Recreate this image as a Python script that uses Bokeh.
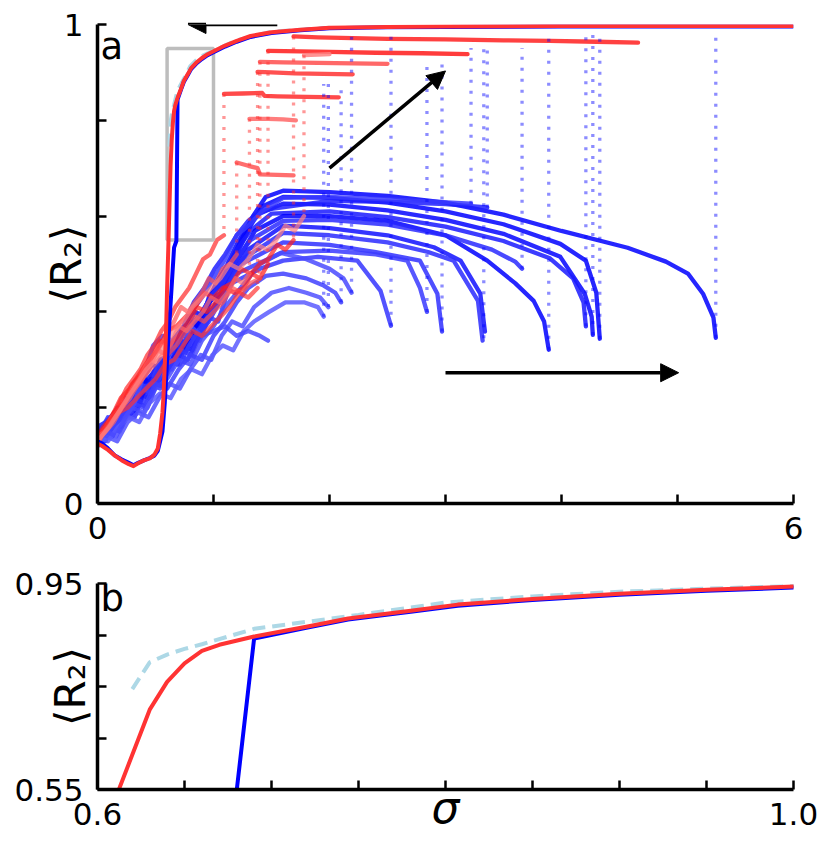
from bokeh.plotting import figure
from bokeh.layouts import column
from bokeh.models import Range1d, FixedTicker, Label, Arrow, NormalHead
from bokeh.embed import file_html
from bokeh.resources import INLINE

FONT = "DejaVu Sans"

# ---------------- main hysteresis curves (shared by both panels) ----------------
main_red_x = [0.00, 0.04, 0.09, 0.15, 0.21, 0.27, 0.31, 0.35, 0.40, 0.45, 0.49, 0.52, 0.54, 0.56,
              0.57, 0.58, 0.59, 0.60, 0.61, 0.63, 0.64, 0.65, 0.66, 0.67, 0.69, 0.72, 0.744, 0.78,
              0.807, 0.85, 0.90, 0.95, 1.00, 1.10, 1.20, 1.32, 1.50, 1.75, 2.00, 2.50, 3.00, 4.00,
              5.00, 6.00]
main_red_y = [0.125, 0.12, 0.112, 0.10, 0.09, 0.082, 0.078, 0.084, 0.09, 0.094, 0.102, 0.115, 0.146,
              0.19, 0.23, 0.29, 0.35, 0.45, 0.53, 0.705, 0.759, 0.795, 0.819, 0.831, 0.847, 0.866,
              0.882, 0.897, 0.909, 0.920, 0.930, 0.938, 0.944, 0.956, 0.966, 0.976, 0.984, 0.989,
              0.993, 0.995, 0.996, 0.997, 0.997, 0.997]

main_blue_x = [0.00, 0.04, 0.09, 0.15, 0.21, 0.27, 0.31, 0.35, 0.40, 0.45, 0.49, 0.52, 0.54, 0.56,
               0.58, 0.60, 0.66, 0.68, 0.69, 0.72, 0.744, 0.78, 0.807, 0.85, 0.90, 0.95, 1.00,
               1.10, 1.20, 1.32, 1.50, 1.75, 2.00, 2.50, 3.00, 4.00, 5.00, 6.00]
main_blue_y = [0.13, 0.125, 0.115, 0.10, 0.092, 0.085, 0.08, 0.085, 0.09, 0.095, 0.10, 0.11, 0.13,
               0.15, 0.21, 0.30, 0.534, 0.548, 0.843, 0.864, 0.880, 0.895, 0.907, 0.918, 0.928,
               0.936, 0.942, 0.954, 0.964, 0.974, 0.982, 0.988, 0.992, 0.994, 0.995, 0.996, 0.996,
               0.996]

dash_x = [0.62, 0.63, 0.64, 0.65, 0.66, 0.69, 0.75, 0.80, 0.85, 0.90, 0.95, 1.00, 1.20, 1.50, 2.00]
dash_y = [0.745, 0.797, 0.812, 0.823, 0.832, 0.862, 0.889, 0.913, 0.925, 0.934, 0.940, 0.945,
          0.967, 0.985, 0.993]

# ---------------- forward (blue) runs ----------------
b1_x = [0.00, 0.06, 0.12, 0.19, 0.26, 0.33, 0.40, 0.47, 0.55, 0.63, 0.71, 0.80, 0.88, 0.96, 1.05,
        1.14, 1.24, 1.34, 1.45, 1.60, 2.00, 2.50, 3.00, 3.50, 4.00, 4.57, 4.90, 5.09, 5.22, 5.31, 5.33]
b1_y = [0.14, 0.16, 0.15, 0.19, 0.21, 0.20, 0.25, 0.27, 0.30, 0.29, 0.34, 0.38, 0.37, 0.43, 0.47,
        0.50, 0.55, 0.60, 0.64, 0.653, 0.650, 0.642, 0.628, 0.603, 0.569, 0.534, 0.505, 0.480, 0.438,
        0.388, 0.346]
b2_x = [0.00, 0.07, 0.14, 0.21, 0.28, 0.36, 0.44, 0.52, 0.60, 0.68, 0.77, 0.86, 0.95, 1.04, 1.13,
        1.22, 1.32, 1.42, 1.60, 2.00, 2.50, 3.00, 3.50, 3.99, 4.21, 4.30, 4.33]
b2_y = [0.13, 0.15, 0.17, 0.16, 0.20, 0.23, 0.22, 0.27, 0.31, 0.33, 0.32, 0.38, 0.42, 0.45, 0.49,
        0.53, 0.58, 0.62, 0.640, 0.638, 0.628, 0.610, 0.583, 0.542, 0.507, 0.440, 0.344]
b3_x = [0.00, 0.05, 0.11, 0.18, 0.25, 0.33, 0.41, 0.49, 0.57, 0.66, 0.75, 0.84, 0.93, 1.02, 1.12,
        1.22, 1.35, 1.60, 2.00, 2.50, 3.00, 3.50, 3.99, 4.20, 4.26, 4.27]
b3_y = [0.15, 0.14, 0.17, 0.18, 0.22, 0.21, 0.26, 0.24, 0.29, 0.33, 0.36, 0.40, 0.39, 0.46, 0.50,
        0.55, 0.60, 0.626, 0.624, 0.612, 0.592, 0.563, 0.515, 0.438, 0.390, 0.352]
b4_x = [0.00, 0.08, 0.16, 0.24, 0.32, 0.40, 0.48, 0.56, 0.64, 0.72, 0.80, 0.90, 1.00, 1.10, 1.20,
        1.32, 1.50, 2.00, 2.50, 3.00, 3.50, 3.90, 4.10, 4.19, 4.21]
b4_y = [0.12, 0.14, 0.16, 0.19, 0.18, 0.23, 0.26, 0.25, 0.30, 0.34, 0.33, 0.39, 0.44, 0.48, 0.53,
        0.57, 0.605, 0.610, 0.598, 0.578, 0.548, 0.512, 0.470, 0.420, 0.370]
b5_x = [0.00, 0.07, 0.15, 0.23, 0.31, 0.39, 0.47, 0.56, 0.65, 0.74, 0.83, 0.92, 1.01, 1.10, 1.20,
        1.30, 1.40, 1.50, 2.00, 2.50, 3.00, 3.36]
b5_y = [0.16, 0.17, 0.19, 0.18, 0.23, 0.26, 0.29, 0.28, 0.34, 0.37, 0.42, 0.45, 0.49, 0.52, 0.56,
        0.59, 0.61, 0.615, 0.632, 0.630, 0.625, 0.618]
b6_x = [0.00, 0.09, 0.18, 0.27, 0.36, 0.45, 0.54, 0.63, 0.72, 0.81, 0.90, 1.00, 1.10, 1.20, 1.30,
        1.42, 1.60, 2.00, 2.60, 3.22]
b6_y = [0.14, 0.18, 0.17, 0.22, 0.25, 0.24, 0.30, 0.31, 0.36, 0.40, 0.43, 0.47, 0.51, 0.56, 0.58,
        0.61, 0.638, 0.640, 0.634, 0.626]
b7_x = [0.00, 0.06, 0.13, 0.20, 0.28, 0.36, 0.44, 0.52, 0.60, 0.69, 0.78, 0.87, 0.96, 1.06, 1.16,
        1.26, 1.36, 1.60, 2.00, 2.50, 3.00, 3.36, 3.60, 3.76, 3.85, 3.89]
b7_y = [0.13, 0.15, 0.14, 0.18, 0.20, 0.23, 0.22, 0.27, 0.30, 0.29, 0.34, 0.38, 0.42, 0.44, 0.49,
        0.53, 0.57, 0.600, 0.600, 0.590, 0.560, 0.507, 0.460, 0.423, 0.380, 0.321]
b8_x = [0.00, 0.08, 0.17, 0.26, 0.35, 0.44, 0.53, 0.62, 0.71, 0.80, 0.90, 1.00, 1.10, 1.20, 1.32,
        1.60, 2.00, 2.50, 3.00, 3.40, 3.60, 3.66]
b8_y = [0.15, 0.16, 0.20, 0.19, 0.24, 0.23, 0.28, 0.32, 0.31, 0.37, 0.40, 0.44, 0.47, 0.51, 0.55,
        0.590, 0.592, 0.582, 0.560, 0.530, 0.505, 0.490]
b9_x = [0.00, 0.07, 0.14, 0.22, 0.30, 0.38, 0.46, 0.55, 0.64, 0.73, 0.82, 0.91, 1.00, 1.10, 1.20,
        1.30, 1.60, 2.00, 2.50, 2.90, 3.13, 3.30, 3.34]
b9_y = [0.14, 0.13, 0.17, 0.19, 0.18, 0.22, 0.26, 0.25, 0.30, 0.33, 0.32, 0.38, 0.41, 0.45, 0.49,
        0.53, 0.580, 0.575, 0.560, 0.535, 0.507, 0.438, 0.359]
b10_x = [0.00, 0.06, 0.12, 0.19, 0.27, 0.35, 0.43, 0.51, 0.60, 0.69, 0.78, 0.87, 0.96, 1.05, 1.15,
         1.25, 1.60, 2.00, 2.50, 2.85, 3.07, 3.28, 3.32]
b10_y = [0.12, 0.14, 0.16, 0.15, 0.19, 0.21, 0.20, 0.25, 0.27, 0.31, 0.30, 0.35, 0.38, 0.42, 0.47,
         0.51, 0.565, 0.560, 0.545, 0.525, 0.507, 0.423, 0.340]
b11_x = [0.00, 0.08, 0.16, 0.24, 0.32, 0.40, 0.48, 0.56, 0.64, 0.72, 0.80, 0.88, 0.96, 1.05, 1.14,
         1.24, 1.60, 2.00, 2.40, 2.78, 2.93, 2.97]
b11_y = [0.15, 0.17, 0.16, 0.20, 0.22, 0.21, 0.26, 0.29, 0.28, 0.33, 0.35, 0.34, 0.39, 0.42, 0.46,
         0.50, 0.545, 0.540, 0.525, 0.507, 0.438, 0.359]
b12_x = [0.00, 0.07, 0.15, 0.23, 0.31, 0.39, 0.47, 0.55, 0.63, 0.71, 0.79, 0.87, 0.95, 1.04, 1.12,
         1.20, 1.60, 2.00, 2.40, 2.67, 2.78, 2.84]
b12_y = [0.13, 0.15, 0.18, 0.17, 0.21, 0.24, 0.23, 0.27, 0.30, 0.29, 0.33, 0.36, 0.39, 0.38, 0.44,
         0.48, 0.525, 0.528, 0.520, 0.507, 0.450, 0.400]
b13_x = [0.00, 0.09, 0.18, 0.27, 0.36, 0.45, 0.54, 0.63, 0.72, 0.81, 0.90, 0.99, 1.08, 1.16, 1.40,
         1.60, 1.90, 2.24, 2.44, 2.53]
b13_y = [0.14, 0.16, 0.19, 0.18, 0.23, 0.25, 0.24, 0.29, 0.32, 0.31, 0.36, 0.40, 0.43, 0.46, 0.49,
         0.507, 0.515, 0.507, 0.444, 0.371]
b14_x = [0.00, 0.10, 0.20, 0.30, 0.40, 0.50, 0.60, 0.70, 0.80, 0.90, 1.00, 1.10, 1.20, 1.30, 1.40,
         1.58, 1.80, 2.00, 2.12, 2.19]
b14_y = [0.13, 0.15, 0.17, 0.20, 0.19, 0.24, 0.26, 0.30, 0.29, 0.34, 0.37, 0.41, 0.44, 0.47, 0.50,
         0.523, 0.510, 0.490, 0.470, 0.440]
b15_x = [0.00, 0.10, 0.20, 0.30, 0.40, 0.50, 0.60, 0.70, 0.80, 0.90, 1.00, 1.10, 1.20, 1.30, 1.45,
         1.60, 1.80, 1.95, 2.05, 2.10]
b15_y = [0.15, 0.14, 0.18, 0.21, 0.20, 0.25, 0.24, 0.28, 0.31, 0.30, 0.35, 0.38, 0.42, 0.45, 0.475,
         0.480, 0.470, 0.455, 0.440, 0.420]
b16_x = [0.00, 0.08, 0.17, 0.26, 0.35, 0.44, 0.53, 0.62, 0.71, 0.80, 0.89, 0.98, 1.07, 1.16, 1.25,
         1.35, 1.50, 1.65, 1.80, 1.92, 1.99]
b16_y = [0.12, 0.14, 0.13, 0.17, 0.19, 0.18, 0.22, 0.25, 0.24, 0.28, 0.31, 0.30, 0.35, 0.38, 0.37,
         0.41, 0.44, 0.45, 0.44, 0.43, 0.41]
b17_x = [0.00, 0.09, 0.18, 0.27, 0.36, 0.45, 0.54, 0.63, 0.72, 0.81, 0.90, 0.99, 1.08, 1.17, 1.26,
         1.35, 1.48, 1.62, 1.78, 1.90, 1.95]
b17_y = [0.14, 0.13, 0.16, 0.18, 0.17, 0.21, 0.23, 0.22, 0.26, 0.28, 0.27, 0.31, 0.33, 0.32, 0.36,
         0.38, 0.40, 0.42, 0.42, 0.41, 0.39]
b18_x = [0.00, 0.08, 0.16, 0.24, 0.32, 0.40, 0.48, 0.56, 0.64, 0.72, 0.80, 0.90, 1.00, 1.10, 1.20,
         1.30, 1.40, 1.47]
b18_y = [0.13, 0.15, 0.14, 0.18, 0.21, 0.27, 0.33, 0.35, 0.34, 0.36, 0.37, 0.35, 0.36, 0.37, 0.35,
         0.36, 0.35, 0.34]

blue_colors = ["#0000ff", "#0000ff", "#0505ff", "#1a1aff", "#2020ff", "#3a3aff", "#0000ff",
               "#2a2aff", "#1010ff", "#2a2aff", "#3030ff", "#3a3aff", "#3535ff", "#4a4aff",
               "#4040ff", "#5050ff", "#5a5aff", "#4a4aff"]

# jumps of the forward runs (dotted)
dot_b_x = [1.95, 1.99, 2.10, 2.19, 2.53, 2.84, 2.97, 3.22, 3.33, 3.36, 3.66, 3.89, 4.21, 4.27, 4.33, 5.33]
dot_b_lo = [0.39, 0.41, 0.42, 0.44, 0.371, 0.40, 0.359, 0.626, 0.345, 0.618, 0.49, 0.321, 0.37, 0.352,
            0.344, 0.346]
dot_b_hi = [0.876, 0.876, 0.876, 0.982, 0.982, 0.924, 0.924, 0.951, 0.951, 0.951, 0.951, 0.982, 0.982,
            0.982, 0.982, 0.982]

# ---------------- backward (red) runs ----------------
r1_x = [4.66, 4.30, 3.90, 3.50, 3.00, 2.50, 2.10, 1.90, 1.69]
r1_y = [0.962, 0.964, 0.966, 0.967, 0.969, 0.970, 0.972, 0.973, 0.975]
r1l_x = [1.69, 1.62, 1.55, 1.47, 1.40, 1.32, 1.24, 1.16, 1.08, 1.00, 0.92, 0.84, 0.76, 0.68, 0.60,
         0.52, 0.44, 0.36, 0.28, 0.20, 0.12, 0.05, 0.00]
r1l_y = [0.55, 0.53, 0.54, 0.51, 0.50, 0.48, 0.49, 0.46, 0.45, 0.43, 0.44, 0.41, 0.39, 0.37, 0.36,
         0.32, 0.30, 0.27, 0.24, 0.22, 0.18, 0.16, 0.14]
r2_x = [3.19, 2.80, 2.40, 2.00, 1.75, 1.47]
r2_y = [0.938, 0.940, 0.941, 0.943, 0.944, 0.945]
r2l_x = [1.47, 1.40, 1.33, 1.26, 1.18, 1.10, 1.02, 0.94, 0.86, 0.78, 0.70, 0.62, 0.54, 0.46, 0.38,
         0.30, 0.22, 0.14, 0.07, 0.00]
r2l_y = [0.50, 0.47, 0.48, 0.45, 0.44, 0.45, 0.42, 0.40, 0.41, 0.38, 0.35, 0.33, 0.34, 0.30, 0.27,
         0.25, 0.21, 0.19, 0.16, 0.13]
r3_x = [2.50, 2.20, 1.90, 1.60, 1.40]
r3_y = [0.918, 0.919, 0.920, 0.921, 0.922]
r3l_x = [1.40, 1.32, 1.24, 1.16, 1.08, 1.00, 0.92, 0.84, 0.76, 0.68, 0.60, 0.52, 0.44, 0.36, 0.28,
         0.20, 0.12, 0.05, 0.00]
r3l_y = [0.47, 0.46, 0.44, 0.45, 0.42, 0.40, 0.38, 0.39, 0.36, 0.33, 0.31, 0.32, 0.28, 0.25, 0.23,
         0.20, 0.18, 0.15, 0.12]
r4_x = [2.20, 1.95, 1.70, 1.50, 1.38]
r4_y = [0.896, 0.897, 0.898, 0.900, 0.901]
r4l_x = [1.38, 1.30, 1.22, 1.14, 1.06, 0.98, 0.90, 0.82, 0.74, 0.66, 0.58, 0.50, 0.42, 0.34, 0.26,
         0.18, 0.10, 0.04, 0.00]
r4l_y = [0.45, 0.43, 0.44, 0.41, 0.39, 0.37, 0.35, 0.36, 0.33, 0.30, 0.29, 0.26, 0.24, 0.22, 0.20,
         0.19, 0.17, 0.15, 0.14]
r5_x = [2.08, 1.80, 1.55, 1.44, 1.42, 1.25, 1.09]
r5_y = [0.848, 0.849, 0.850, 0.851, 0.857, 0.856, 0.855]
r5l_x = [1.09, 1.03, 0.97, 0.91, 0.85, 0.79, 0.73, 0.67, 0.61, 0.55, 0.49, 0.43, 0.37, 0.31, 0.25,
         0.19, 0.13, 0.07, 0.00]
r5l_y = [0.56, 0.55, 0.52, 0.51, 0.48, 0.45, 0.43, 0.41, 0.38, 0.36, 0.33, 0.31, 0.28, 0.26, 0.24,
         0.21, 0.18, 0.16, 0.14]
r6_x = [1.71, 1.60, 1.47, 1.31]
r6_y = [0.800, 0.802, 0.803, 0.803]
r6l_x = [1.31, 1.25, 1.19, 1.12, 1.05, 0.98, 0.91, 0.84, 0.77, 0.70, 0.63, 0.56, 0.49, 0.42, 0.35,
         0.28, 0.21, 0.14, 0.07, 0.00]
r6l_y = [0.48, 0.46, 0.47, 0.44, 0.42, 0.43, 0.40, 0.38, 0.36, 0.37, 0.33, 0.31, 0.29, 0.27, 0.25,
         0.22, 0.20, 0.17, 0.15, 0.13]
r7_x = [1.69, 1.55, 1.40, 1.38, 1.30, 1.20]
r7_y = [0.685, 0.686, 0.687, 0.700, 0.705, 0.712]
r7l_x = [1.20, 1.14, 1.08, 1.02, 0.96, 0.90, 0.84, 0.78, 0.72, 0.66, 0.60, 0.54, 0.48, 0.42, 0.36,
         0.30, 0.24, 0.18, 0.12, 0.06, 0.00]
r7l_y = [0.52, 0.50, 0.49, 0.46, 0.47, 0.44, 0.42, 0.40, 0.41, 0.38, 0.35, 0.33, 0.31, 0.29, 0.26,
         0.24, 0.21, 0.19, 0.17, 0.15, 0.14]
r8_x = [2.00, 1.90, 1.78]
r8_y = [0.938, 0.937, 0.936]
r8l_x = [1.78, 1.70, 1.62, 1.54, 1.46, 1.38, 1.30, 1.22, 1.14, 1.06, 0.98, 0.90, 0.82, 0.74, 0.66,
         0.58, 0.50, 0.42, 0.34, 0.26, 0.18, 0.10, 0.00]
r8l_y = [0.60, 0.57, 0.58, 0.55, 0.53, 0.54, 0.51, 0.49, 0.50, 0.47, 0.45, 0.43, 0.41, 0.38, 0.36,
         0.33, 0.30, 0.28, 0.25, 0.22, 0.19, 0.16, 0.13]

red_colors = ["#ff2020", "#ff1a1a", "#ff4d4d", "#ff3333", "#ff2a2a", "#ff6666", "#ff5555", "#ff8080"]

# jumps of the backward runs (dotted)
dot_r_x = [1.69, 1.47, 1.40, 1.38, 1.09, 1.31, 1.20, 1.78]
dot_r_hi = [0.975, 0.945, 0.922, 0.901, 0.855, 0.803, 0.712, 0.936]
dot_r_lo = [0.55, 0.50, 0.47, 0.45, 0.56, 0.48, 0.52, 0.60]

# inset box, arrows
box_left, box_right, box_bottom, box_top = [0.6], [1.0], [0.55], [0.95]
arrow_x0 = [1.55, 2.0, 3.0]
arrow_y0 = [1.0, 0.70, 0.273]
arrow_x1 = [0.78, 3.0, 5.01]
arrow_y1 = [1.0, 0.903, 0.273]

# ticks
a_xticks = [0, 1, 2, 3, 4, 5, 6]
a_yticks = [0, 0.2, 0.4, 0.6, 0.8, 1]
b_xticks = [0.6, 0.65, 0.7, 0.75, 0.8, 0.85, 0.9, 0.95, 1.0]
b_yticks = [0.55, 0.65, 0.75, 0.85, 0.95]


def style(p, xt, xlab, yt, ylab):
    p.grid.visible = False
    p.outline_line_color = None
    p.background_fill_color = "white"
    p.border_fill_color = "white"
    p.xaxis.ticker = FixedTicker(ticks=xt)
    p.yaxis.ticker = FixedTicker(ticks=yt)
    p.xaxis.major_label_overrides = {t: (xlab.get(t, "")) for t in xt}
    p.yaxis.major_label_overrides = {t: (ylab.get(t, "")) for t in yt}
    for ax in (p.xaxis, p.yaxis):
        ax.axis_line_width = 3.5
        ax.axis_line_color = "black"
        ax.major_tick_in = 9
        ax.major_tick_out = 0
        ax.major_tick_line_width = 2.5
        ax.major_tick_line_color = "black"
        ax.minor_tick_line_color = None
        ax.major_label_text_font = FONT
        ax.major_label_text_font_size = "31px"
        ax.major_label_text_color = "black"
        ax.axis_label_text_font = FONT
        ax.axis_label_text_color = "black"
    p.xaxis.major_label_standoff = 13
    p.yaxis.major_label_standoff = 14


p1 = figure(width=823, height=553, x_range=Range1d(0, 6), y_range=Range1d(0, 1),
            output_backend="svg", toolbar_location=None,
            min_border_left=97, min_border_right=30, min_border_top=24, min_border_bottom=50)
style(p1, a_xticks, {0: "0", 6: "6"}, a_yticks, {0: "0", 1: "1"})
p1.yaxis.axis_label = "⟨R₂⟩"
p1.yaxis.axis_label_text_font_size = "42px"
p1.yaxis.axis_label_text_font_style = "normal"
p1.yaxis.axis_label_standoff = -30

blue_runs = [(b1_x, b1_y), (b2_x, b2_y), (b3_x, b3_y), (b4_x, b4_y), (b5_x, b5_y), (b6_x, b6_y),
             (b7_x, b7_y), (b8_x, b8_y), (b9_x, b9_y), (b10_x, b10_y), (b11_x, b11_y), (b12_x, b12_y),
             (b13_x, b13_y), (b14_x, b14_y), (b15_x, b15_y), (b16_x, b16_y), (b17_x, b17_y),
             (b18_x, b18_y)]
for (xs, ys), c in zip(blue_runs, blue_colors):
    p1.line(xs, ys, line_color=c, line_width=4.3, line_alpha=0.85, line_join="round", line_cap="round")

red_runs = [(r1_x, r1_y, r1l_x, r1l_y), (r2_x, r2_y, r2l_x, r2l_y), (r3_x, r3_y, r3l_x, r3l_y),
            (r4_x, r4_y, r4l_x, r4l_y), (r5_x, r5_y, r5l_x, r5l_y), (r6_x, r6_y, r6l_x, r6l_y),
            (r7_x, r7_y, r7l_x, r7l_y), (r8_x, r8_y, r8l_x, r8l_y)]
for (ux, uy, lx, ly), c in zip(red_runs, red_colors):
    p1.line(ux, uy, line_color=c, line_width=4.3, line_alpha=0.85, line_join="round", line_cap="round")
    p1.line(lx, ly, line_color=c, line_width=4.3, line_alpha=0.7, line_join="round", line_cap="round")

p1.segment(x0=dot_b_x, y0=dot_b_lo, x1=dot_b_x, y1=dot_b_hi, line_color="#0000ff", line_alpha=0.45,
           line_width=3.3, line_dash="3 8")
p1.segment(x0=dot_r_x, y0=dot_r_hi, x1=dot_r_x, y1=dot_r_lo, line_color="#ff3030", line_alpha=0.5,
           line_width=3.3, line_dash="3 8")

p1.quad(left=box_left, right=box_right, bottom=box_bottom, top=box_top, fill_color=None,
        line_color="#bdbdbd", line_width=3.5)

p1.line(dash_x, dash_y, line_color="#add8e6", line_width=4, line_dash="13 7")
p1.line(main_blue_x, main_blue_y, line_color="#0000ff", line_width=4, line_join="round")
p1.line(main_red_x, main_red_y, line_color="#ff3333", line_width=4, line_join="round")

for x0, y0, x1, y1 in zip(arrow_x0, arrow_y0, arrow_x1, arrow_y1):
    p1.add_layout(Arrow(end=NormalHead(size=18, fill_color="black", line_color="black"),
                        x_start=x0, y_start=y0, x_end=x1, y_end=y1,
                        line_color="black", line_width=3.5))

p1.add_layout(Label(x=0.026, y=0.955, text="a", text_font=FONT, text_font_size="37px",
                    text_baseline="alphabetic", text_align="left", text_color="black"))

# ---------------- panel b ----------------
p2 = figure(width=823, height=282, x_range=Range1d(0.6, 1.0), y_range=Range1d(0.55, 0.95),
            output_backend="svg", toolbar_location=None,
            min_border_left=97, min_border_right=30, min_border_top=30, min_border_bottom=45)
style(p2, b_xticks, {0.6: "0.6", 1.0: "1.0"}, b_yticks, {0.55: "0.55", 0.95: "0.95"})
p2.yaxis.axis_label = "⟨R₂⟩"
p2.yaxis.axis_label_text_font_size = "42px"
p2.yaxis.axis_label_text_font_style = "normal"
p2.yaxis.axis_label_standoff = -84
p2.xaxis.axis_label = "σ"
p2.xaxis.axis_label_text_font_size = "44px"
p2.xaxis.axis_label_text_font_style = "italic"
p2.xaxis.axis_label_standoff = -46

p2.line(dash_x, dash_y, line_color="#add8e6", line_width=4, line_dash="13 7")
p2.line(main_blue_x, main_blue_y, line_color="#0000ff", line_width=4, line_join="round")
p2.line(main_red_x, main_red_y, line_color="#ff3333", line_width=4, line_join="round")

p2.add_layout(Label(x=0.6017, y=0.921, text="b", text_font=FONT, text_font_size="37px",
                    text_baseline="alphabetic", text_align="left", text_color="black"))

layout = column(p1, p2)
open("out.html", "w").write(file_html(layout, INLINE))
